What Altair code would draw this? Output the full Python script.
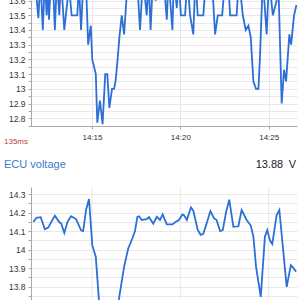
import altair as alt
import pandas as pd

# ---------------- data ----------------
top_times = [
    "14:11:46", "14:11:58", "14:12:05", "14:12:13", "14:12:20", "14:12:26", "14:12:30", "14:12:34", "14:12:41", "14:12:48",
    "14:12:54", "14:13:01", "14:13:09", "14:13:15", "14:13:26", "14:13:34", "14:13:42", "14:13:51", "14:14:01", "14:14:10",
    "14:14:16", "14:14:23", "14:14:31", "14:14:40", "14:14:47", "14:14:56", "14:15:01", "14:15:13", "14:15:18", "14:15:27",
    "14:15:36", "14:15:45", "14:15:52", "14:15:59", "14:16:08", "14:16:15", "14:16:20", "14:16:27", "14:16:33", "14:16:41",
    "14:16:49", "14:16:55", "14:17:00", "14:17:09", "14:17:21", "14:17:33", "14:17:43", "14:17:53", "14:18:06", "14:18:12",
    "14:18:19", "14:18:27", "14:18:36", "14:18:44", "14:18:54", "14:19:03", "14:19:14", "14:19:20", "14:19:33", "14:19:38",
    "14:19:48", "14:19:54", "14:20:02", "14:20:09", "14:20:16", "14:20:24", "14:20:33", "14:20:44", "14:20:51", "14:20:59",
    "14:21:08", "14:21:18", "14:21:27", "14:21:37", "14:21:47", "14:21:58", "14:22:07", "14:22:15", "14:22:22", "14:22:32",
    "14:22:42", "14:22:49", "14:22:59", "14:23:11", "14:23:19", "14:23:32", "14:23:42", "14:23:51", "14:23:59", "14:24:08",
    "14:24:17", "14:24:25", "14:24:30", "14:24:40", "14:24:53", "14:25:01", "14:25:14", "14:25:27", "14:25:33", "14:25:44",
    "14:25:52", "14:25:59", "14:26:10", "14:26:16", "14:26:26", "14:26:34",
]
top_volts = [
    13.75, 13.48, 13.75, 13.4, 13.75, 13.5, 13.7, 13.47, 13.75, 13.7,
    13.4, 13.75, 13.5, 13.75, 13.4, 13.55, 13.7, 13.5, 13.5, 13.5,
    13.7, 13.4, 13.75, 13.7, 13.3, 13.43, 13.2, 13.1, 12.77, 12.92,
    12.76, 13.1, 13.1, 12.87, 13.0, 13.0, 13.05, 13.2, 13.35, 13.5,
    13.37, 13.55, 13.7, 13.7, 13.65, 13.75, 13.4, 13.75, 13.5, 13.75,
    13.4, 13.75, 13.6, 13.75, 13.7, 13.75, 13.47, 13.75, 13.4, 13.75,
    13.55, 13.75, 13.5, 13.5, 13.5, 13.75, 13.5, 13.37, 13.75, 13.5,
    13.5, 13.5, 13.75, 13.8, 13.75, 13.37, 13.5, 13.5, 13.5, 13.75,
    13.75, 13.5, 13.5, 13.5, 13.75, 13.5, 13.4, 13.43, 13.35, 13.05,
    13.0, 13.0, 13.2, 13.75, 13.37, 13.75, 13.5, 13.6, 13.7, 12.9,
    13.13, 13.05, 13.37, 13.3, 13.5, 13.57,
]

ecu_times = [
    "14:11:41", "14:11:52", "14:12:06", "14:12:20", "14:12:32", "14:12:42", "14:12:54", "14:13:08", "14:13:16", "14:13:26",
    "14:13:37", "14:13:49", "14:14:06", "14:14:23", "14:14:30", "14:14:40", "14:14:50", "14:15:01", "14:15:13", "14:15:34",
    "14:15:51", "14:16:08", "14:16:49", "14:17:03", "14:17:17", "14:17:26", "14:17:34", "14:17:40", "14:17:49", "14:18:06",
    "14:18:14", "14:18:28", "14:18:40", "14:18:51", "14:19:00", "14:19:14", "14:19:33", "14:19:45", "14:19:55", "14:20:07",
    "14:20:13", "14:20:22", "14:20:36", "14:20:44", "14:20:59", "14:21:09", "14:21:18", "14:21:31", "14:21:42", "14:21:54",
    "14:22:03", "14:22:15", "14:22:24", "14:22:35", "14:22:46", "14:23:00", "14:23:17", "14:23:28", "14:23:45", "14:23:59",
    "14:24:08", "14:24:17", "14:24:33", "14:24:47", "14:24:55", "14:25:04", "14:25:12", "14:25:27", "14:25:36", "14:26:01",
    "14:26:15", "14:26:24", "14:26:33",
]
ecu_volts = [
    14.15, 14.172, 14.175, 14.11, 14.12, 14.15, 14.183, 14.15, 14.14, 14.09,
    14.15, 14.18, 14.165, 14.104, 14.1, 14.214, 14.273, 14.024, 13.96, 13.5,
    13.45, 13.5, 13.907, 14.006, 14.06, 14.1, 14.177, 14.18, 14.16, 14.165,
    14.175, 14.14, 14.177, 14.16, 14.19, 14.136, 14.136, 14.15, 14.16, 14.19,
    14.185, 14.16, 14.228, 14.21, 14.106, 14.08, 14.085, 14.15, 14.208, 14.17,
    14.16, 14.1, 14.105, 14.2, 14.27, 14.123, 14.126, 14.214, 14.16, 14.13,
    14.07, 13.907, 13.745, 14.07, 14.106, 14.05, 14.03, 14.187, 14.214, 13.799,
    13.916, 13.9, 13.88,
]

x_tick_times = ["14:15:00", "14:20:00", "14:25:00"]
top_ticks = [12.75, 12.8, 12.85, 12.9, 12.95, 13.0, 13.05, 13.1, 13.15, 13.2,
             13.25, 13.3, 13.35, 13.4, 13.45, 13.5, 13.55, 13.6]
ecu_ticks = [13.75, 13.8, 13.85, 13.9, 13.95, 14.0, 14.05, 14.1, 14.15, 14.2,
             14.25, 14.3]

note_text = ["135ms"]
panel_title = ["ECU voltage"]
panel_value = ["13.88\u2002V"]

# ---------------- styling ----------------
FONT = "Liberation Sans"
BLUE = "#2c6fd6"
TITLE_BLUE = "#3a7ccc"
RED = "#c0433a"
GRID = "#e8e8e8"
AXIS = "#a8a8a8"

DAY = "2024-01-01T"


def dt(hms):
    h, m, s = (int(p) for p in hms.split(":"))
    return alt.DateTime(year=2024, month=1, date=1, hours=h, minutes=m, seconds=s)


df_top = pd.DataFrame({"t": [DAY + t for t in top_times], "v": top_volts})
df_ecu = pd.DataFrame({"t": [DAY + t for t in ecu_times], "v": ecu_volts})
df_ticks = pd.DataFrame({"t": [DAY + t for t in x_tick_times]})

x_enc = alt.X(
    "t:T",
    title=None,
    scale=alt.Scale(domain=[dt("14:11:33"), dt("14:26:36")]),
    axis=alt.Axis(
        values=[dt(t) for t in x_tick_times],
        format="%H:%M",
        grid=True,
        gridColor=GRID,
        domainColor=AXIS,
        tickColor=AXIS,
        tickSize=3,
        labelPadding=4,
        labelFontSize=8,
        labelColor="#333333",
        labelFont=FONT,
    ),
)

label_expr = "abs(datum.value*10 - round(datum.value*10)) < 0.001 ? format(datum.value, '.1~f') : ''"


def y_axis():
    return alt.Axis(
        orient="left",
        labelExpr=label_expr,
        grid=True,
        gridColor=GRID,
        domainColor=AXIS,
        tickColor=AXIS,
        tickSize=3,
        labelPadding=3,
        labelFontSize=8.5,
        labelColor="#333333",
        labelFont=FONT,
        labelOverlap=False,
        title=None,
    )


ax_top = y_axis()
ax_top.values = top_ticks
ax_ecu = y_axis()
ax_ecu.values = ecu_ticks

gridlines = alt.Chart(df_ticks).mark_rule(color=GRID, strokeWidth=1).encode(
    x=x_enc, y=alt.value(187), y2=alt.value(300)
)

top_line = alt.Chart(df_top).mark_line(color=BLUE, strokeWidth=1.8).encode(
    x=x_enc,
    y=alt.Y("v:Q", title=None,
            scale=alt.Scale(domain=[12.747, 13.604], nice=False, zero=False),
            axis=ax_top),
)

ecu_line = alt.Chart(df_ecu).mark_line(color=BLUE, strokeWidth=1.8).encode(
    x=x_enc,
    y=alt.Y("v:Q", title=None,
            scale=alt.Scale(domain=[13.728, 14.338], range=[300, 187], nice=False, zero=False),
            axis=ax_ecu),
)

note = alt.Chart(pd.DataFrame({"s": note_text})).mark_text(
    align="left", baseline="middle", fontSize=8, color=RED, font=FONT
).encode(text="s:N", x=alt.value(-27), y=alt.value(142))

title = alt.Chart(pd.DataFrame({"s": panel_title})).mark_text(
    align="left", baseline="middle", fontSize=11, color=TITLE_BLUE, font=FONT
).encode(text="s:N", x=alt.value(-27), y=alt.value(165))

value = alt.Chart(pd.DataFrame({"s": panel_value})).mark_text(
    align="right", baseline="middle", fontSize=11, color="#222222", font=FONT
).encode(text="s:N", x=alt.value(265), y=alt.value(165))

chart = (
    alt.layer(gridlines, top_line, ecu_line, note, title, value)
    .resolve_scale(y="independent")
    .properties(
        width=266,
        height=126,
        autosize=alt.AutoSizeParams(type="none"),
        padding={"left": 31, "top": 0, "right": 3, "bottom": 174},
        background="white",
    )
    .configure_view(stroke="transparent")
)

chart.save("out.html", embed_options={"renderer": "svg", "actions": False})
